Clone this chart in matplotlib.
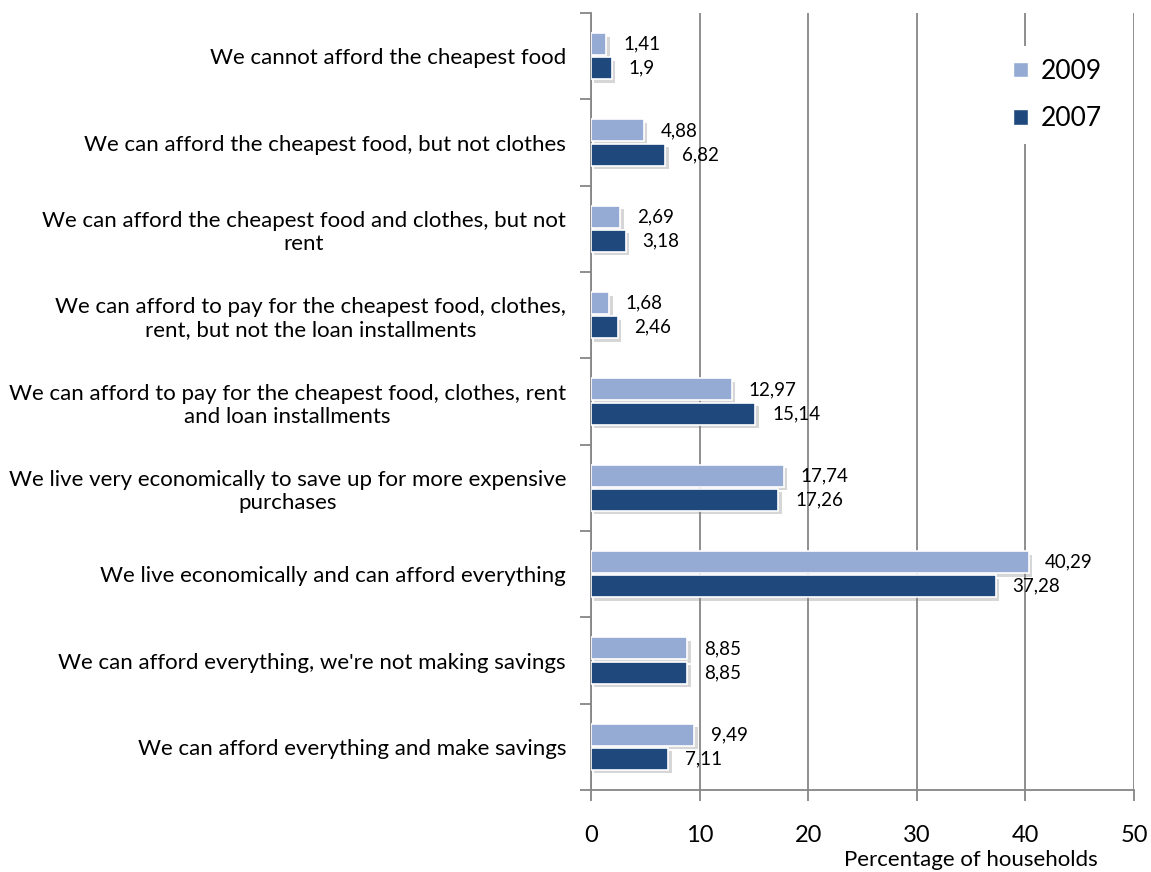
import numpy as np
import matplotlib
matplotlib.use("Agg")
import matplotlib.pyplot as plt
import matplotlib.patheffects as pe
from matplotlib.patches import Patch

plt.rcParams['font.family'] = ['Lato', 'DejaVu Sans']

categories = [
    "We cannot afford the cheapest food",
    "We can afford the cheapest food, but not clothes",
    "We can afford the cheapest food and clothes, but not\nrent",
    "We can afford to pay for the cheapest food, clothes,\nrent, but not the loan installments",
    "We can afford to pay for the cheapest food, clothes, rent\nand loan installments",
    "We live very economically to save up for more expensive\npurchases",
    "We live economically and can afford everything",
    "We can afford everything, we're not making savings",
    "We can afford everything and make savings",
]
y2009 = [1.41, 4.88, 2.69, 1.68, 12.97, 17.74, 40.29, 8.85, 9.49]
y2007 = [1.9, 6.82, 3.18, 2.46, 15.14, 17.26, 37.28, 8.85, 7.11]

c2009 = "#95abd3"
c2007 = "#1f497d"
grid_c = "#868686"

fig = plt.figure(figsize=(11.51, 8.72), dpi=100)
ax = fig.add_axes([591 / 1151, 1 - 790 / 872, (1134 - 591) / 1151, (790 - 13) / 872])

pos = np.arange(len(categories))
h = 0.255
off = 0.14
shadow = [pe.SimplePatchShadow(offset=(2.5, -2.5), shadow_rgbFace="#8a8a8a", alpha=0.35), pe.Normal()]

b1 = ax.barh(pos - off, y2009, height=h, color=c2009, edgecolor="white", linewidth=1.2, zorder=3)
b2 = ax.barh(pos + off, y2007, height=h, color=c2007, edgecolor="white", linewidth=1.2, zorder=3)
for b in list(b1) + list(b2):
    b.set_path_effects(shadow)

def fmt(v):
    return f"{v:g}".replace(".", ",")

for p, v in zip(pos, y2009):
    ax.annotate(fmt(v), (v, p - off), xytext=(12, 0), textcoords="offset points",
                va="center", ha="left", fontsize=13.5, zorder=4)
for p, v in zip(pos, y2007):
    ax.annotate(fmt(v), (v, p + off), xytext=(12, 0), textcoords="offset points",
                va="center", ha="left", fontsize=13.5, zorder=4)

ax.set_xlim(0, 50)
ax.set_ylim(len(categories) - 0.5, -0.5)
ax.set_xticks(np.arange(0, 51, 10))
ax.tick_params(axis="x", length=8, width=1.3, color=grid_c, pad=17, labelsize=17)
ax.set_yticks(pos)
ax.set_yticklabels(categories, fontsize=16, multialignment="center")
ax.tick_params(axis="y", length=0, pad=18)
ax.set_yticks(np.arange(-0.5, len(categories), 1), minor=True)
ax.tick_params(axis="y", which="minor", length=8, width=1.3, color=grid_c)

ax.xaxis.grid(True, color=grid_c, linewidth=1.3)
ax.set_axisbelow(True)
for s in ["top", "right"]:
    ax.spines[s].set_visible(False)
for s in ["left", "bottom"]:
    ax.spines[s].set_color(grid_c)
    ax.spines[s].set_linewidth(1.3)

ax.set_xlabel("Percentage of households", fontsize=16)
ax.xaxis.set_label_coords(0.70, -0.077)

handles = [Patch(facecolor=c2009, edgecolor="white"), Patch(facecolor=c2007, edgecolor="white")]
leg = ax.legend(handles, ["2009", "2007"], loc="upper right", bbox_to_anchor=(0.99, 0.975),
                frameon=True, fontsize=19, handlelength=0.55, handleheight=0.55,
                labelspacing=0.85, borderpad=0.5, handletextpad=0.5)
leg.get_frame().set_edgecolor("none")
leg.get_frame().set_facecolor("white")
leg.get_frame().set_alpha(1)

fig.savefig("out.png", dpi=100)
